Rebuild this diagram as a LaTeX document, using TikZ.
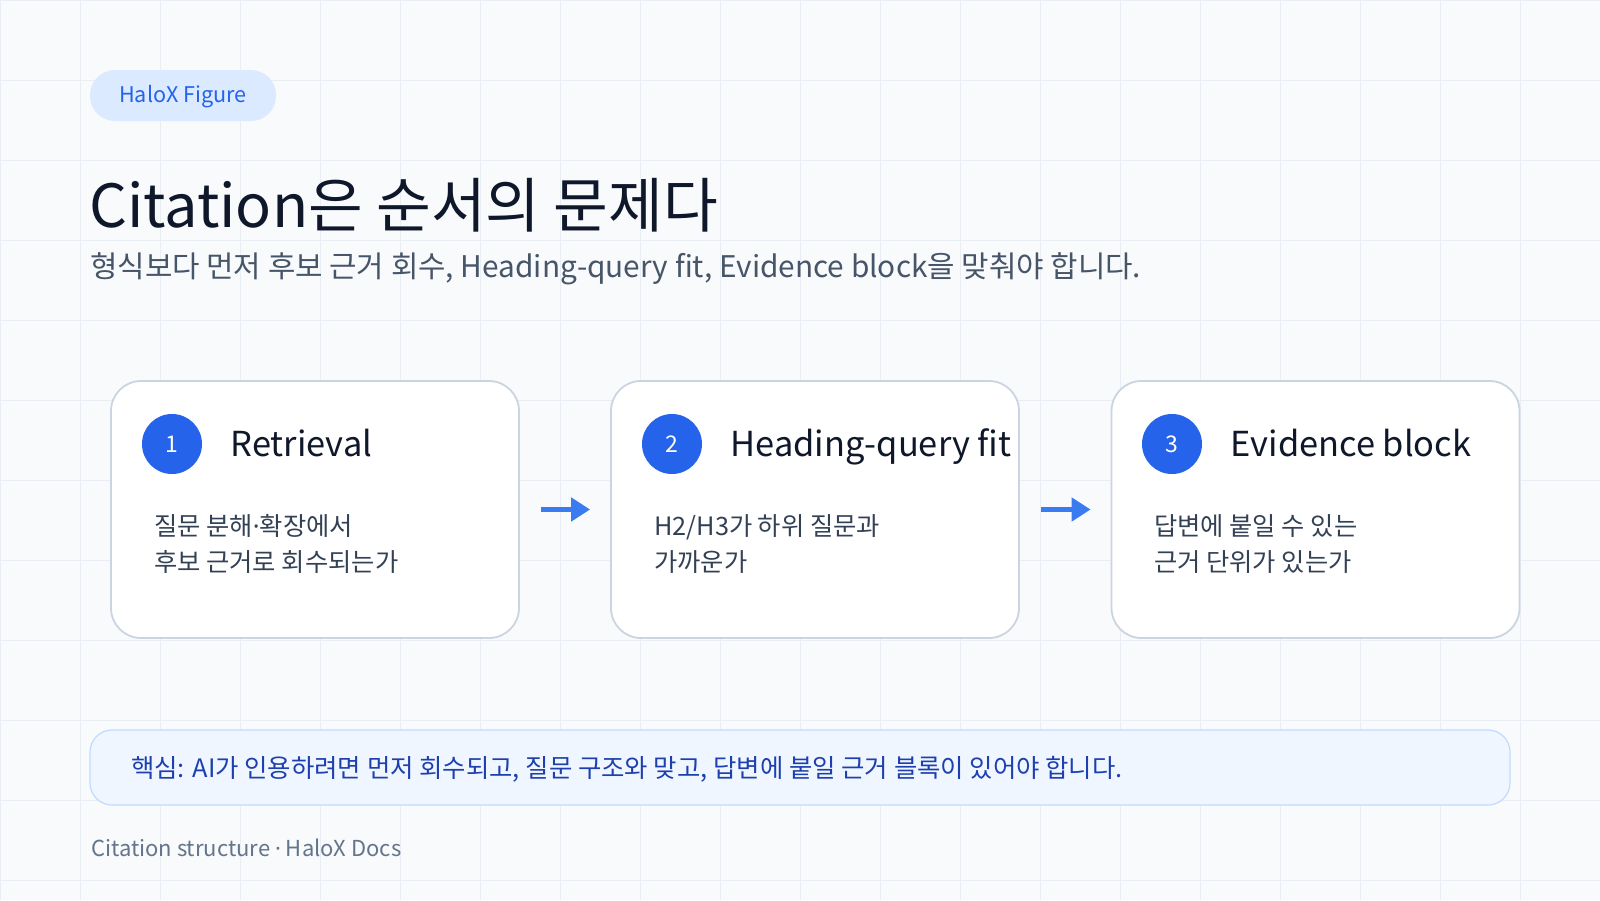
\documentclass[tikz,border=0pt]{standalone}
\usepackage{fontspec}
\setmainfont{Noto Sans CJK KR}
\newfontfamily\dotfont{Noto Sans}
\newcommand{\pdot}{{\dotfont ·}}
\usetikzlibrary{arrows.meta}
\definecolor{bg}{HTML}{F8FAFC}
\definecolor{gridc}{HTML}{E9EEF5}
\definecolor{pillfill}{HTML}{DBEAFE}
\definecolor{blue6}{HTML}{2563EB}
\definecolor{arrowc}{HTML}{3B7BF0}
\definecolor{ink}{HTML}{0F172A}
\definecolor{subink}{HTML}{475569}
\definecolor{bodyink}{HTML}{334155}
\definecolor{cardline}{HTML}{CBD5E1}
\definecolor{notefill}{HTML}{EFF6FF}
\definecolor{noteline}{HTML}{BFDBFE}
\definecolor{noteink}{HTML}{1E40AF}
\definecolor{footink}{HTML}{64748B}
\tikzset{
  card/.style={draw=cardline, line width=1.8pt, fill=white, rounded corners=30pt,
    minimum width=408pt, minimum height=257pt, inner sep=0pt},
  numdot/.style={circle, fill=blue6, minimum size=60pt, inner sep=0pt,
    text=white, font=\fontsize{23}{23}\selectfont},
  cardtitle/.style={anchor=base west, inner sep=0pt, text=ink, font=\fontsize{34.4}{34.4}\selectfont},
  bodytext/.style={anchor=base west, inner sep=0pt, text=bodyink, font=\fontsize{25.3}{25.3}\selectfont},
  flow/.style={draw=arrowc, line width=5pt, -{Triangle[length=19pt, width=23pt]}},
}
\begin{document}
\begin{tikzpicture}[x=1pt, y=-1pt]
\useasboundingbox (0,0) rectangle (1600,900);
\fill[bg] (0,0) rectangle (1600,900);
\foreach \gx in {0,80,...,1600} {\draw[gridc, line width=1pt] (\gx,0) -- (\gx,900);}
\foreach \gy in {0,80,...,880} {\draw[gridc, line width=1pt] (0,\gy) -- (1600,\gy);}

% tag pill
\node[fill=pillfill, rounded corners=25pt, minimum width=186pt, minimum height=51pt, inner sep=0pt] (pill) at (183,95.5) {};
\node[text=blue6, inner sep=0pt, font=\fontsize{21.6}{21.6}\selectfont] (pilltext) at ([yshift=-1.5pt]pill.center) {HaloX Figure};

% title and subtitle
\node[anchor=base west, inner sep=0pt, text=ink, font=\fontsize{59.5}{59.5}\selectfont] (title) at (89,227) {Citation은 순서의 문제다};
\node[anchor=base west, inner sep=0pt, text=subink, font=\fontsize{29.8}{29.8}\selectfont] (subtitle) at (90,277.5) {형식보다 먼저 후보 근거 회수, Heading-query fit, Evidence block을 맞춰야 합니다.};

% cards
\node[card] (c1) at (315,509.5) {};
\node[card] (c2) at (815,509.5) {};
\node[card] (c3) at (1315.5,509.5) {};

\node[numdot] (n1) at (172,444) {1};
\node[numdot] (n2) at (672,444) {2};
\node[numdot] (n3) at (1172,444) {3};

\node[cardtitle] (t1) at (230.5,456) {Retrieval};
\node[cardtitle] (t2) at (730.5,456) {Heading-query fit};
\node[cardtitle] (t3) at (1230.5,456) {Evidence block};

\node[bodytext] (b1a) at (154,535) {질문 분해\pdot 확장에서};
\node[bodytext] (b1b) at (154,571) {후보 근거로 회수되는가};
\node[bodytext] (b2a) at (654,535) {H2/H3가 하위 질문과};
\node[bodytext] (b2b) at (654,571) {가까운가};
\node[bodytext] (b3a) at (1154,535) {답변에 붙일 수 있는};
\node[bodytext] (b3b) at (1154,571) {근거 단위가 있는가};

% arrows
\draw[flow] ([xshift=21pt]c1.east) -- ([xshift=-20pt]c2.west);
\draw[flow] ([xshift=21pt]c2.east) -- ([xshift=-20pt]c3.west);

% note
\node[draw=noteline, line width=1.2pt, fill=notefill, rounded corners=22pt,
  minimum width=1420pt, minimum height=75pt, inner sep=0pt] (note) at (800,767.5) {};
\node[anchor=base west, inner sep=0pt, text=noteink, font=\fontsize{25.4}{25.4}\selectfont] (notetext) at (131,777)
  {핵심: AI가 인용하려면 먼저 회수되고, 질문 구조와 맞고, 답변에 붙일 근거 블록이 있어야 합니다.};

% footer
\node[anchor=base west, inner sep=0pt, text=footink, font=\fontsize{22}{22}\selectfont] (footer) at (91,856)
  {Citation structure \pdot{} HaloX Docs};
\end{tikzpicture}
\end{document}
